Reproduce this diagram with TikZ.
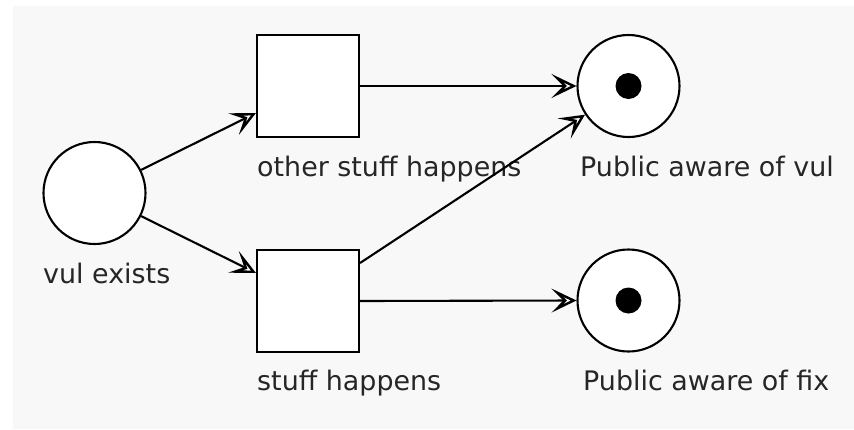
\documentclass[tikz,border=0pt]{standalone}
\usepackage{fontspec}
\setmainfont{DejaVu Sans}
\usetikzlibrary{arrows.meta,calc}
\definecolor{canvas}{HTML}{F8F8F8}
\definecolor{labelgray}{HTML}{262626}
\tikzset{
  place/.style={circle,draw=black,fill=white,line width=2.1pt,minimum size=102pt,inner sep=0pt},
  transition/.style={rectangle,draw=black,fill=white,line width=2.1pt,minimum size=102pt,inner sep=0pt},
  token/.style={circle,fill=black,minimum size=26pt,inner sep=0pt},
  netlabel/.style={anchor=base west,inner sep=0pt,text=labelgray,font=\fontsize{26.9}{32}\selectfont},
  arc/.style={line width=2.1pt,-{Stealth[open,length=25pt,width=24pt,inset=12pt,line width=2.4pt]}}
}
\begin{document}
\begin{tikzpicture}[x=1pt,y=-1pt]
\useasboundingbox (0,0) rectangle (854,429);
\fill[white] (0,0) rectangle (854,429);
\fill[canvas] (13,6) rectangle (854,429);

% places and transitions
\node[place] (vul) at (94.5,193) {};
\node[transition] (other) at (308,86) {};
\node[transition] (stuff) at (308,301) {};
\node[place] (pubvul) at (628.5,86) {};
\node[place] (pubfix) at (628.5,300.5) {};

% tokens
\node[token] (tokvul) at (pubvul) {};
\node[token] (tokfix) at (pubfix) {};

% labels
\node[netlabel] (lvul) at (43,283) {vul exists};
\node[netlabel] (lother) at (257,176) {other stuff happens};
\node[netlabel] (lstuff) at (257,390) {stuff happens};
\node[netlabel] (lpubvul) at (580,176) {Public aware of vul};
\node[netlabel] (lpubfix) at (583,390) {Public aware of fix};

% arc end points on the transition borders
\coordinate (otherin) at ($(other.west)+(0,27)$);
\coordinate (stuffin) at ($(stuff.west)+(0,-28)$);
\coordinate (stuffout) at ($(stuff.east)+(0,-38)$);

% arcs
\draw[arc] (vul) -- (otherin);
\draw[arc] (vul) -- (stuffin);
\draw[arc] (other.east) -- (pubvul.west);
\draw[arc] (stuffout) -- (pubvul);
\draw[arc] (stuff.east) -- (pubfix.west);
\end{tikzpicture}
\end{document}
